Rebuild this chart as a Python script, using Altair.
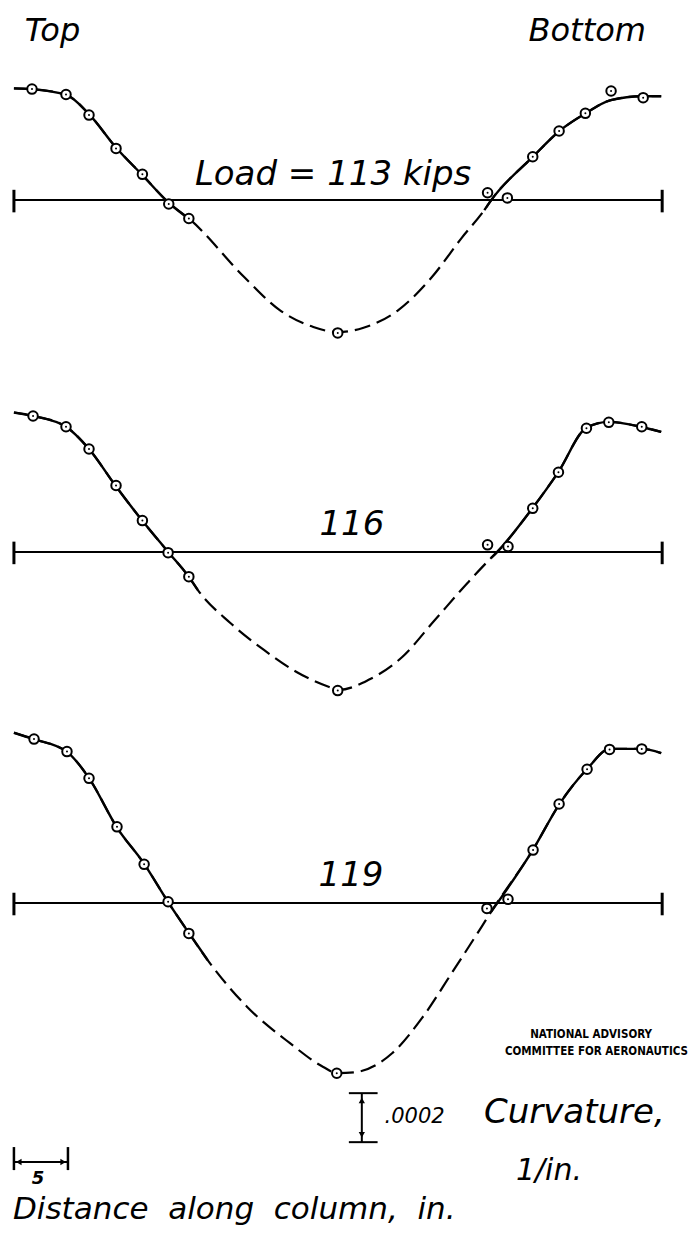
import altair as alt
import pandas as pd

# ---------------- data (x: distance along column, in.; k: curvature, 1e-4 per in.) ----------------
loads = ["113", "116", "119"]

# measured points
p113_x = [1.67, 4.82, 6.95, 9.45, 11.89, 14.33, 16.19, 29.97, 43.84, 45.67, 48.02, 50.46, 52.89, 55.27, 58.24]
p113_k = [4.53, 4.31, 3.47, 2.11, 1.05, -0.16, -0.75, -5.42, 0.30, 0.09, 1.77, 2.82, 3.54, 4.45, 4.18]
p116_x = [1.77, 4.82, 6.95, 9.45, 11.89, 14.27, 16.19, 29.97, 43.84, 45.73, 48.02, 50.40, 52.99, 55.06, 58.11]
p116_k = [5.55, 5.11, 4.20, 2.71, 1.28, -0.03, -1.01, -5.66, 0.29, 0.22, 1.78, 3.25, 5.05, 5.29, 5.11]
p119_x = [1.86, 4.91, 6.95, 9.54, 12.05, 14.27, 16.19, 29.88, 43.78, 45.73, 48.05, 50.46, 53.05, 55.13, 58.11]
p119_k = [6.69, 6.18, 5.09, 3.11, 1.58, 0.05, -1.24, -6.95, -0.22, 0.15, 2.16, 4.04, 5.46, 6.27, 6.29]

# faired curves (dashed between the two x limits given)
c113_x = [0, 1.65, 4.85, 6.95, 9.42, 11.89, 14.36, 16.37, 21.31, 24.6, 27.71, 30.0, 32.29, 35.58,
          38.69, 41.43, 43.54, 44.18, 48.02, 50.49, 52.8, 55.25, 58.17, 59.91]
c113_k = [4.56, 4.53, 4.29, 3.51, 2.16, 1.02, -0.12, -0.82, -3.14, -4.49, -5.18, -5.39, -5.22, -4.49,
          -3.14, -1.55, -0.41, 0.0, 1.76, 2.82, 3.51, 4.08, 4.24, 4.24]
d113 = [16.37, 43.54]
c116_x = [0, 1.74, 4.85, 6.95, 9.42, 11.89, 14.27, 16.19, 17.01, 20.03, 23.14, 26.16, 29.18, 30.09,
          32.83, 35.94, 38.96, 41.98, 44.18, 44.64, 48.02, 50.4, 52.96, 55.06, 58.08, 59.91]
c116_k = [5.69, 5.55, 5.10, 4.20, 2.69, 1.27, 0.0, -1.02, -1.55, -2.90, -4.0, -4.90, -5.51, -5.63,
          -5.22, -4.29, -2.78, -1.27, -0.24, -0.04, 1.80, 3.27, 5.06, 5.31, 5.10, 4.90]
d116 = [17.01, 44.18]
c119_x = [0, 1.83, 4.94, 6.95, 9.51, 12.07, 14.27, 16.19, 17.93, 21.59, 25.52, 28.63, 29.91, 31.65,
          35.03, 37.78, 40.52, 43.27, 44.18, 48.02, 50.49, 53.05, 55.16, 58.08, 59.91]
c119_k = [6.95, 6.69, 6.16, 5.10, 3.10, 1.59, 0.04, -1.22, -2.33, -4.24, -5.71, -6.69, -6.94, -6.90,
          -6.12, -4.69, -2.86, -0.98, -0.35, 2.16, 4.04, 5.47, 6.29, 6.29, 6.12]
d119 = [17.93, 44.18]

column_length = 60.0      # in.
scale_len_x = 5           # in.
scale_len_k = 2           # .0002 1/in.

# ---------------- layout ----------------
panel_base = {"113": 28.69, "116": 14.33, "119": 0.0}   # vertical stacking of panels
xs = alt.Scale(domain=[-0.549, 61.65], nice=False, zero=False)
ys = alt.Scale(domain=[-13.59, 36.53], nice=False, zero=False)
X = lambda f="x": alt.X(f"{f}:Q", scale=xs, axis=None)
Y = lambda f="y": alt.Y(f"{f}:Q", scale=ys, axis=None)
ITALIC = "DejaVu Sans"
NARROW = "'Liberation Sans Narrow', 'DejaVu Sans Condensed', sans-serif"

pts = {"113": (p113_x, p113_k), "116": (p116_x, p116_k), "119": (p119_x, p119_k)}
crv = {"113": (c113_x, c113_k, d113), "116": (c116_x, c116_k, d116), "119": (c119_x, c119_k, d119)}

point_rows, solid_rows, full_rows, base_rows, tick_rows = [], [], [], [], []
for L in loads:
    b = panel_base[L]
    for x, k in zip(*pts[L]):
        point_rows.append({"x": x, "y": b + k, "load": L})
    cx, ck, (d0, d1) = crv[L]
    for x, k in zip(cx, ck):
        full_rows.append({"x": x, "y": b + k, "seg": L})
        if x <= d0:
            solid_rows.append({"x": x, "y": b + k, "seg": L + "a"})
        if x >= d1:
            solid_rows.append({"x": x, "y": b + k, "seg": L + "b"})
    base_rows.append({"x": 0, "x2": column_length, "y": b})
    for xe in (0, column_length):
        tick_rows.append({"x": xe, "y": b + 0.42, "y2": b - 0.5})

points_df = pd.DataFrame(point_rows)
solid_df = pd.DataFrame(solid_rows)
full_df = pd.DataFrame(full_rows)
base_df = pd.DataFrame(base_rows)
tick_df = pd.DataFrame(tick_rows)

layers = []
layers.append(alt.Chart(base_df).mark_rule(color="black", strokeWidth=2).encode(
    x=X(), x2="x2:Q", y=Y()))
layers.append(alt.Chart(tick_df).mark_rule(color="black", strokeWidth=3).encode(
    x=X(), y=Y(), y2="y2:Q"))
# whole faired curve dashed, solid portions drawn over it
layers.append(alt.Chart(full_df).mark_line(color="black", strokeWidth=2.2, interpolate="monotone",
                                           strokeDash=[16, 7]).encode(
    x=X(), y=Y(), detail="seg:N", order="x:Q"))
layers.append(alt.Chart(solid_df).mark_line(color="black", strokeWidth=2.4, interpolate="monotone").encode(
    x=X(), y=Y(), detail="seg:N", order="x:Q"))
layers.append(alt.Chart(points_df).mark_point(shape="circle", size=90, filled=True, fill="white",
                                              stroke="black", strokeWidth=2, opacity=1).encode(
    x=X(), y=Y()))
layers.append(alt.Chart(points_df).mark_circle(size=4, color="black", opacity=1).encode(x=X(), y=Y()))


def label(text, x, y, size, align="left", italic=True, bold=False, font=ITALIC):
    return alt.Chart(pd.DataFrame({"x": [x], "y": [y], "t": [text]})).mark_text(
        align=align, baseline="alphabetic", fontSize=size, font=font,
        fontStyle="italic" if italic else "normal", fontWeight="bold" if bold else "normal",
        color="black").encode(x=X(), y=Y(), text="t:N")


NB = "\u00a0"
layers += [
    label("Top", 1.0, 35.2, 32),
    label("Bottom", 58.5, 35.2, 32, align="right"),
    label("Load = 113 kips", 29.54, 29.31, 34, align="center"),
    label("116", 31.28, 15.02, 34, align="center"),
    label("119", 31.2, 0.69, 34, align="center"),
    label("NATIONAL ADVISORY", 53.42, -5.51, 11.5, align="center", italic=False, bold=True, font=NARROW),
    label("COMMITTEE FOR AERONAUTICS", 53.92, -6.20, 11.5, align="center", italic=False, bold=True, font=NARROW),
    label(".0002", 34.3, -8.98, 21),
    label("Curvature,", 43.5, -8.98, 34),
    label("1/in.", 46.46, -11.31, 30),
    label("5", 1.65, -11.45, 18, bold=True),
    label(f"Distance{NB}{NB}along{NB}{NB}column,{NB}{NB}in.", -0.09, -12.9, 31),
]

# vertical scale bar (.0002)
vx, vtop = 32.2, -7.76
vbot = vtop - scale_len_k
layers.append(alt.Chart(pd.DataFrame({"x": [vx], "y": [vtop], "y2": [vbot]})).mark_rule(
    color="black", strokeWidth=2).encode(x=X(), y=Y(), y2="y2:Q"))
layers.append(alt.Chart(pd.DataFrame({"x": [31.0, 31.0], "x2": [33.66, 33.66], "y": [vtop, vbot]})).mark_rule(
    color="black", strokeWidth=2).encode(x=X(), x2="x2:Q", y=Y()))
layers.append(alt.Chart(pd.DataFrame({"x": [vx], "y": [vtop - 0.3]})).mark_point(
    shape="triangle-up", size=40, filled=True, color="black", opacity=1).encode(x=X(), y=Y()))
layers.append(alt.Chart(pd.DataFrame({"x": [vx], "y": [vbot + 0.3]})).mark_point(
    shape="triangle-down", size=40, filled=True, color="black", opacity=1).encode(x=X(), y=Y()))

# horizontal scale bar (5 in.)
hy = -10.57
layers.append(alt.Chart(pd.DataFrame({"x": [0], "x2": [scale_len_x], "y": [hy]})).mark_rule(
    color="black", strokeWidth=2).encode(x=X(), x2="x2:Q", y=Y()))
layers.append(alt.Chart(pd.DataFrame({"x": [0, scale_len_x], "y": [-9.96, -9.96], "y2": [-10.9, -10.9]})).mark_rule(
    color="black", strokeWidth=2.5).encode(x=X(), y=Y(), y2="y2:Q"))
layers.append(alt.Chart(pd.DataFrame({"x": [0.45], "y": [hy]})).mark_point(
    shape="triangle-left", size=40, filled=True, color="black", opacity=1).encode(x=X(), y=Y()))
layers.append(alt.Chart(pd.DataFrame({"x": [scale_len_x - 0.45], "y": [hy]})).mark_point(
    shape="triangle-right", size=40, filled=True, color="black", opacity=1).encode(x=X(), y=Y()))

chart = alt.layer(*layers).properties(
    width=680, height=1228, padding=0, background="white",
    autosize=alt.AutoSizeParams(type="fit", contains="padding"),
).configure_view(stroke=None)

chart.save("out.html", embed_options={"renderer": "svg", "actions": False})
